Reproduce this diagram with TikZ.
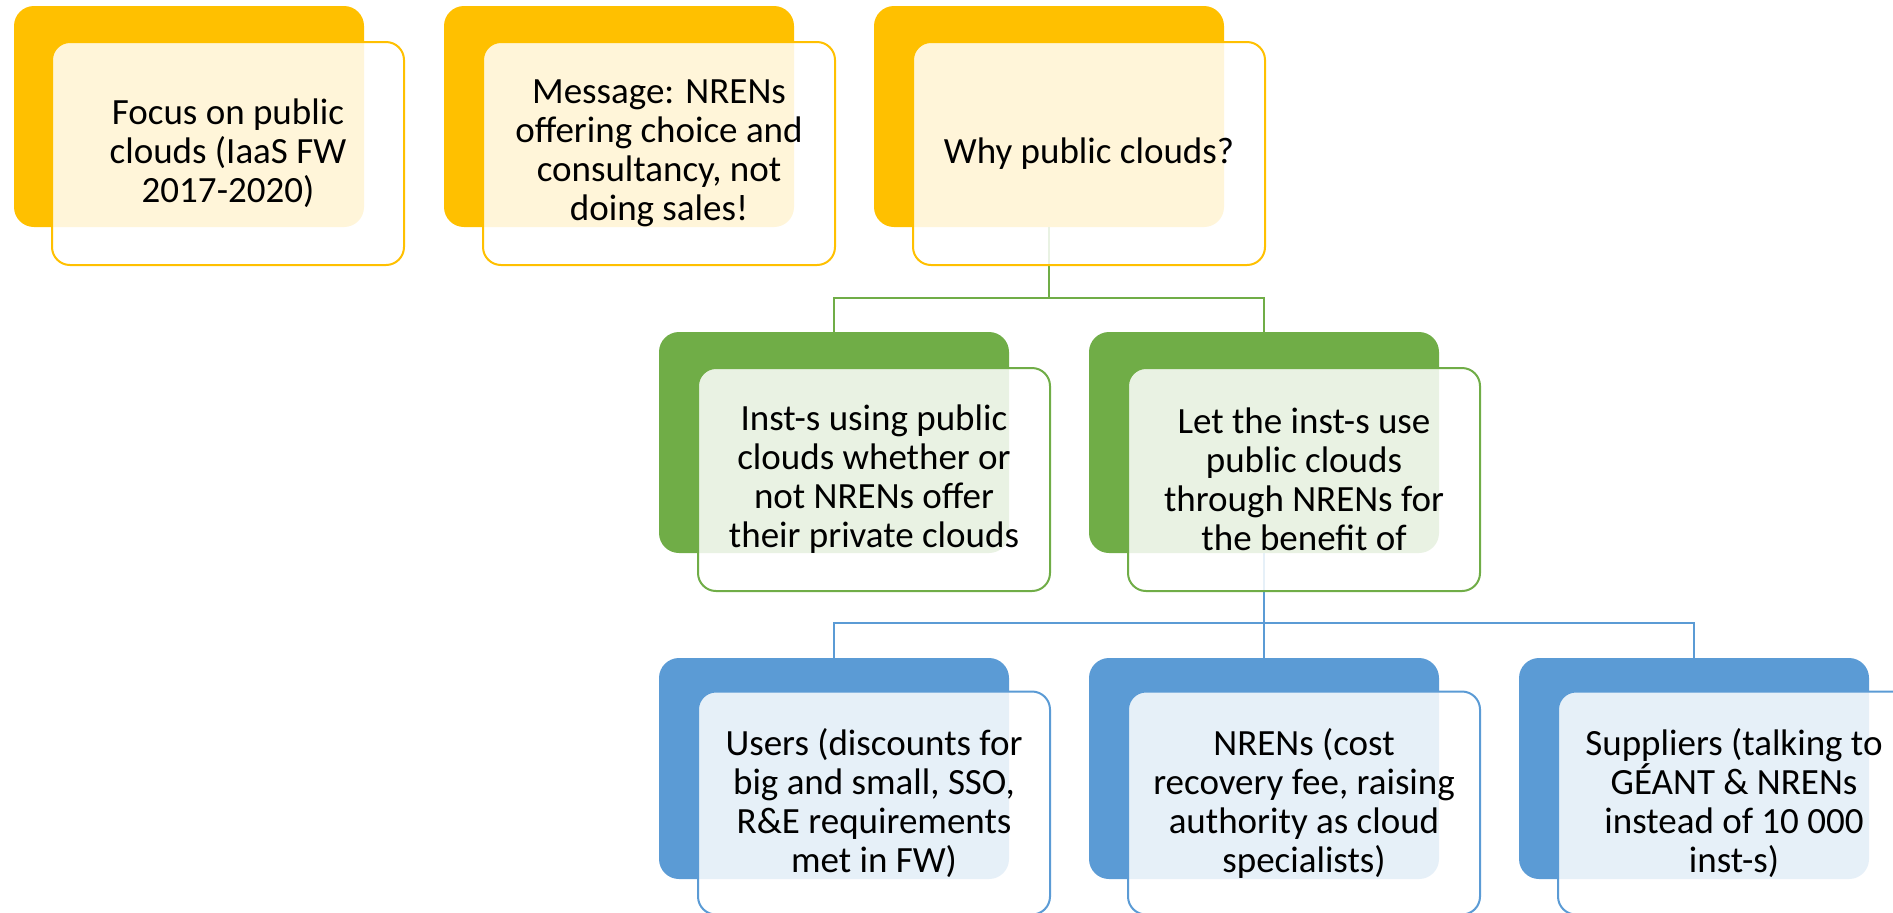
\documentclass[tikz,border=0pt]{standalone}
\usepackage{fontspec}
\setmainfont{Carlito}
\definecolor{ofyellow}{HTML}{FFC000}
\definecolor{ofgreen}{HTML}{70AD47}
\definecolor{ofblue}{HTML}{5B9BD5}

\begin{document}
\begin{tikzpicture}[x=0.5pt,y=-0.5pt]
            \tikzset{backbox/.style = {shape=rectangle, rounded corners=10pt, minimum width=175pt, minimum height=110.5pt, inner sep=0pt}}
            \tikzset{frontbox/.style = {shape=rectangle, rounded corners=9pt, draw, line width=1pt, fill=white, fill opacity=0.85, text opacity=1, minimum width=176pt, minimum height=111.5pt, inner sep=0pt, align=center, text=black, font=\fontsize{18.5}{19.5}\selectfont}}
            \tikzset{edge/.style = {line width=1pt}}
            \useasboundingbox (0,0) rectangle (1893,912);
            % back boxes
            \node[backbox, fill=ofyellow] (focusback) at (189,116.5) {};
            \node[backbox, fill=ofyellow] (msgback) at (619,116.5) {};
            \node[backbox, fill=ofyellow] (whyback) at (1049,116.5) {};
            \node[backbox, fill=ofgreen] (instback) at (834,442.5) {};
            \node[backbox, fill=ofgreen] (letback) at (1264,442.5) {};
            \node[backbox, fill=ofblue] (usersback) at (834,768.5) {};
            \node[backbox, fill=ofblue] (nrensback) at (1264,768.5) {};
            \node[backbox, fill=ofblue] (supback) at (1694,768.5) {};
            % connectors
            \draw[edge, draw=ofgreen] (whyback.south) -- ++(0,71) -| (instback.north);
            \draw[edge, draw=ofgreen] (whyback.south) -- ++(0,71) -| (letback.north);
            \draw[edge, draw=ofblue] (letback.south) -- ++(0,70) -| (usersback.north);
            \draw[edge, draw=ofblue] (letback.south) -- ++(0,70) -| (nrensback.north);
            \draw[edge, draw=ofblue] (letback.south) -- ++(0,70) -| (supback.north);
            % front boxes
            \node[frontbox, draw=ofyellow] (focus) at (228,153.5) {Focus on public\\clouds (IaaS FW\\2017-2020)};
            \node[frontbox, draw=ofyellow] (msg) at (659,153.5) {Message: NRENs\\offering choice and\\consultancy, not\\doing sales!};
            \node[frontbox, draw=ofyellow] (why) at (1089,153.5) {Why public clouds?};
            \node[frontbox, draw=ofgreen] (inst) at (874,479.5) {Inst-s using public\\clouds whether or\\not NRENs offer\\their private clouds};
            \node[frontbox, draw=ofgreen] (let) at (1304,479.5) {Let the inst-s use\\public clouds\\through NRENs for\\the benefit of};
            \node[frontbox, draw=ofblue] (users) at (874,803) {Users (discounts for\\big and small, SSO,\\R\&E requirements\\met in FW)};
            \node[frontbox, draw=ofblue] (nrens) at (1304,803) {NRENs (cost\\recovery fee, raising\\authority as cloud\\specialists)};
            \node[frontbox, draw=ofblue] (sup) at (1734,803) {Suppliers (talking to\\GÉANT \& NRENs\\instead of 10 000\\inst-s)};
\end{tikzpicture}
\end{document}
